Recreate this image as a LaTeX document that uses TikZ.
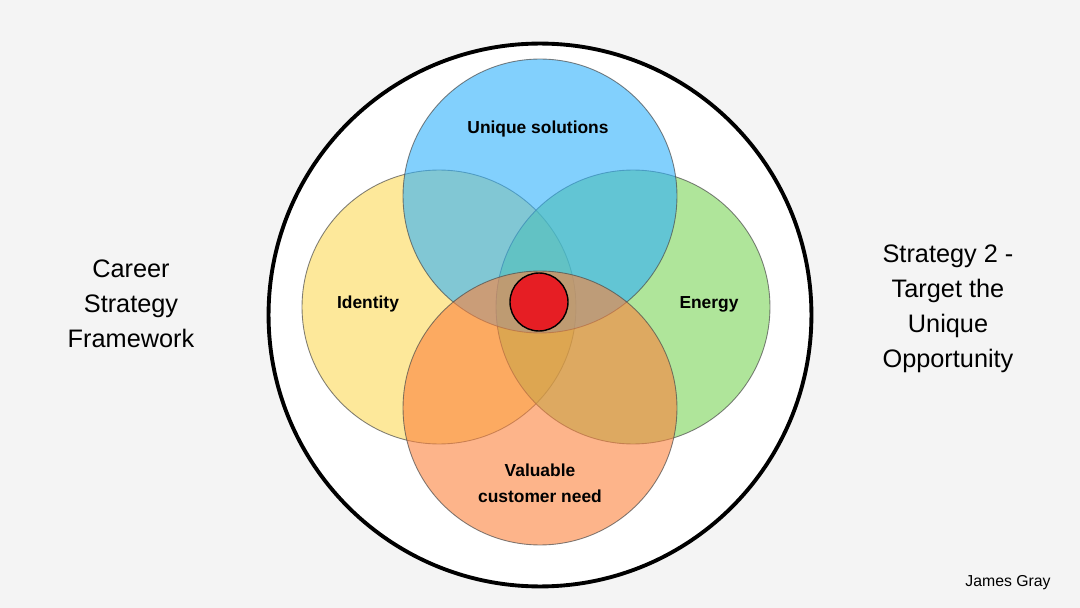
\documentclass[tikz,border=0pt]{standalone}
\usepackage{fontspec}
\setmainfont{Liberation Sans}
\definecolor{bg}{RGB}{244,244,244}
\definecolor{cyel}{RGB}{252,217,87}
\definecolor{cgrn}{RGB}{123,212,87}
\definecolor{cblu}{RGB}{47,177,252}
\definecolor{corg}{RGB}{252,130,60}
\definecolor{cred}{RGB}{230,30,36}
\tikzset{
  venn/.style={circle, minimum size=5.48cm, inner sep=0pt, draw=black!70, draw opacity=0.7, line width=0.5pt, fill opacity=0.6},
  lbl/.style={font=\fontsize{9.9}{12}\selectfont\bfseries, align=center},
  side/.style={font=\fontsize{14.4}{19.9}\selectfont, align=center}
}
\begin{document}
\begin{tikzpicture}[x=0.02cm,y=-0.02cm]
\fill[bg] (0,0) rectangle (1080,608);
\useasboundingbox (0,0) rectangle (1080,608);
\node[circle, minimum size=10.86cm, inner sep=0pt, draw=black, line width=2.2pt, fill=white] (outer) at (540,315) {};
\node[venn, fill=cyel] (yellow) at (439,307) {};
\node[venn, fill=cgrn] (green) at (633,307) {};
\node[venn, fill=cblu] (blue) at (540,196) {};
\node[venn, fill=corg] (orange) at (540,408) {};
\node[circle, minimum size=1.16cm, inner sep=0pt, draw=black, line width=0.8pt, fill=cred] (core) at (539,302) {};
\node[lbl] (tblue) at (538,129) {Unique solutions};
\node[lbl] (tyel) at (368,304) {Identity};
\node[lbl] (tgrn) at (709,304) {Energy};
\node[lbl, font=\fontsize{9.9}{14.7}\selectfont\bfseries] (torg) at (540,483) {Valuable\\customer need};
\node[side] (left) at (131,304) {Career\\Strategy\\Framework};
\node[side] (right) at (948,309) {Strategy 2 -\\Target the\\Unique\\Opportunity};
\node[font=\fontsize{9}{10}\selectfont] (author) at (1008,583) {James Gray};
\end{tikzpicture}
\end{document}
